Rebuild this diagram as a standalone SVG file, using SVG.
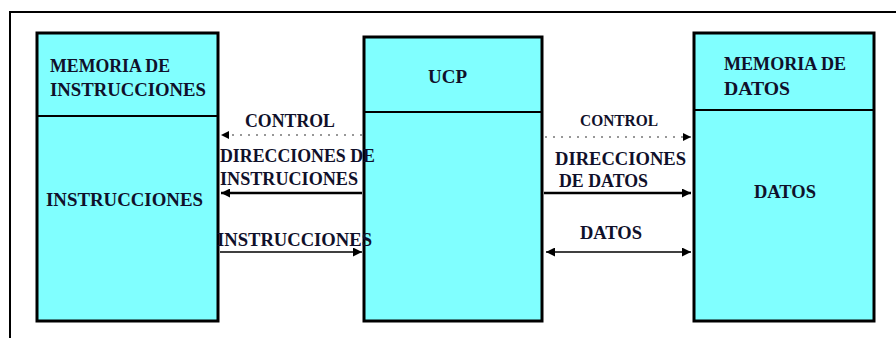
<svg xmlns="http://www.w3.org/2000/svg" width="896" height="338" viewBox="0 0 896 338" font-family="Liberation Serif, Times New Roman, DejaVu Serif, serif" font-weight="bold">
<style>
.box{fill:#80FFFF;stroke:#000;stroke-width:3}
.div{stroke:#000;stroke-width:2}
text{font-size:18px;fill:#10102a}
.s{font-size:16px}
.solid{stroke:#000;stroke-width:2.5;fill:none}
.thin{stroke:#000;stroke-width:1.5;fill:none}
.dot{stroke:#777;stroke-width:1.5;stroke-dasharray:2 6;fill:none}
</style>
<defs>
<marker id="ah" viewBox="0 0 10 10" refX="10" refY="5" markerWidth="10" markerHeight="9" markerUnits="userSpaceOnUse" orient="auto-start-reverse">
<path d="M0,0 L10,5 L0,10 Z" fill="#000"/>
</marker>
<marker id="ahs" viewBox="0 0 10 10" refX="10" refY="5" markerWidth="8" markerHeight="8" markerUnits="userSpaceOnUse" orient="auto-start-reverse">
<path d="M0,0 L10,5 L0,10 Z" fill="#000"/>
</marker>
</defs>
<rect width="896" height="338" fill="#fff"/>
<polyline points="10,338 10,12 896,12" fill="none" stroke="#000" stroke-width="2"/>

<g id="mem-instr">
<rect class="box" x="37" y="33" width="181" height="288"/>
<line class="div" x1="37" y1="116" x2="218" y2="116"/>
<text x="50" y="72" textLength="120" lengthAdjust="spacingAndGlyphs">MEMORIA DE</text>
<text x="50" y="96" textLength="156" lengthAdjust="spacingAndGlyphs">INSTRUCCIONES</text>
<text x="46" y="206" textLength="157" lengthAdjust="spacingAndGlyphs">INSTRUCCIONES</text>
</g>

<g id="ucp">
<rect class="box" x="364" y="37" width="178" height="284"/>
<line class="div" x1="364" y1="112" x2="542" y2="112"/>
<text x="428" y="83" textLength="39" lengthAdjust="spacingAndGlyphs">UCP</text>
</g>

<g id="mem-datos">
<rect class="box" x="694" y="33" width="180" height="288"/>
<line class="div" x1="694" y1="110" x2="874" y2="110"/>
<text x="724" y="70" textLength="122" lengthAdjust="spacingAndGlyphs">MEMORIA DE</text>
<text x="724" y="95" textLength="66" lengthAdjust="spacingAndGlyphs">DATOS</text>
<text x="754" y="198" textLength="62" lengthAdjust="spacingAndGlyphs">DATOS</text>
</g>

<g id="connectors">
<line class="dot" x1="362" y1="135" x2="221" y2="135" marker-end="url(#ahs)"/>
<line class="solid" x1="362" y1="193" x2="221" y2="193" marker-end="url(#ah)"/>
<line class="thin" x1="220" y1="252" x2="362" y2="252" marker-end="url(#ah)"/>
<line class="dot" x1="545" y1="137" x2="691" y2="137" marker-end="url(#ahs)"/>
<line class="solid" x1="544" y1="193" x2="691" y2="193" marker-end="url(#ah)"/>
<line class="thin" x1="546" y1="252" x2="691" y2="252" marker-start="url(#ah)" marker-end="url(#ah)"/>
</g>

<g id="labels">
<text x="245" y="127" textLength="90" lengthAdjust="spacingAndGlyphs">CONTROL</text>
<text x="220" y="162" textLength="155" lengthAdjust="spacingAndGlyphs">DIRECCIONES DE</text>
<text x="220" y="185" textLength="138" lengthAdjust="spacingAndGlyphs">INSTRUCIONES</text>
<text x="217" y="246" textLength="155" lengthAdjust="spacingAndGlyphs">INSTRUCCIONES</text>
<text class="s" x="580" y="126" textLength="78" lengthAdjust="spacingAndGlyphs">CONTROL</text>
<text x="555" y="165" textLength="131" lengthAdjust="spacingAndGlyphs">DIRECCIONES</text>
<text x="559" y="187" textLength="89" lengthAdjust="spacingAndGlyphs">DE DATOS</text>
<text x="580" y="239" textLength="62" lengthAdjust="spacingAndGlyphs">DATOS</text>
</g>
</svg>
